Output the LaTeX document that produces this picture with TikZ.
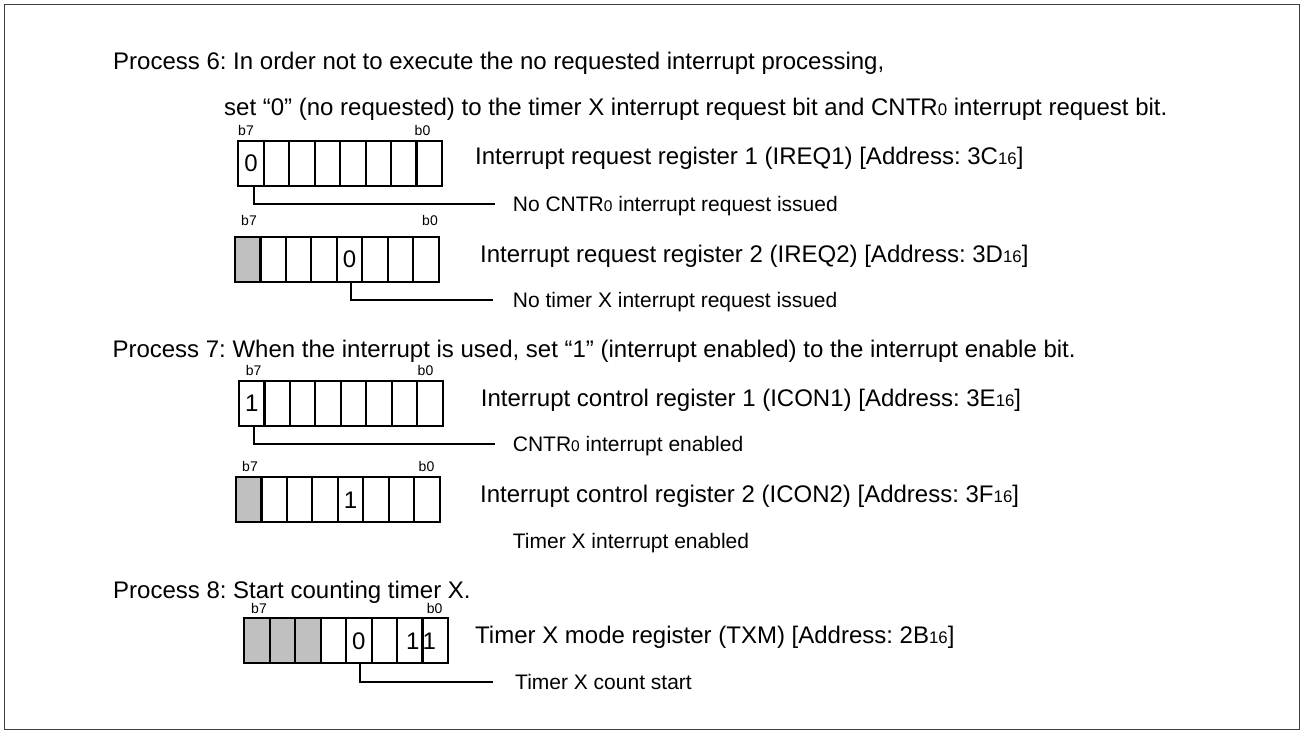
\documentclass[tikz,border=0pt]{standalone}
\usepackage{fontspec}
\setmainfont{Liberation Sans}
\frenchspacing
\definecolor{cellgray}{HTML}{C0C0C0}
\definecolor{framegray}{HTML}{404040}
\newcommand\smA[1]{{\fontsize{16.8}{18}\selectfont #1}}
\newcommand\smB[1]{{\fontsize{15.5}{17}\selectfont #1}}
\newcommand\regrow[4]{%
  \foreach[count=\i from 0] \f in {#4} {%
    \node[cell, fill=\f] (#1-\i) at ({#2+25.45*(\i+0.5)},{#3+22.5}) {};
  }%
}
\begin{document}
\begin{tikzpicture}[x=1pt,y=-1pt,
  cell/.style={draw, line width=2.1pt, minimum width=25.45pt, minimum height=45pt, inner sep=0pt, outer sep=0pt},
  digit/.style={inner sep=0pt, font=\fontsize{24}{28}\selectfont},
  maintext/.style={anchor=base west, inner sep=0pt, font=\fontsize{24}{28}\selectfont},
  subtext/.style={anchor=base west, inner sep=0pt, font=\fontsize{21}{25}\selectfont},
  bitlbl/.style={anchor=base, inner sep=0pt, font=\fontsize{14}{16}\selectfont},
  conn/.style={line width=2pt}
]
\useasboundingbox (0,0) rectangle (1309,731);
\draw[framegray, line width=1.5pt] (4.3,4.3) rectangle (1299.3,729.3);

% Process 6
\node[maintext] (p6) at (113,69.5) {Process 6: In order not to execute the no requested interrupt processing,};
\node[maintext] (p6b) at (224,115) {set “0” (no requested) to the timer X interrupt request bit and CNTR\smA{0} interrupt request bit.};

% Register IREQ1
\regrow{ra}{238.3}{140.7}{white,white,white,white,white,white,white,white}
\node[digit] (da) at (ra-0) {0};
\node[bitlbl] (ra7) at (246,135) {b7};
\node[bitlbl] (ra0) at (422.5,135) {b0};
\node[maintext] (la) at (475,164) {Interrupt request register 1 (IREQ1) [Address: 3C\smA{16}]};
\coordinate (ea) at (495,204.3);
\draw[conn] ([xshift=3pt]ra-0.south) |- (ea);
\node[subtext] (sa) at (512.7,211.5) {No CNTR\smB{0} interrupt request issued};

% Register IREQ2
\regrow{rb}{235}{236.7}{cellgray,white,white,white,white,white,white,white}
\node[digit] (db) at (rb-4) {0};
\node[bitlbl] (rb7) at (249,225) {b7};
\node[bitlbl] (rb0) at (430,225) {b0};
\node[maintext] (lb) at (480,262) {Interrupt request register 2 (IREQ2) [Address: 3D\smA{16}]};
\coordinate (eb) at (493,300);
\draw[conn] ([xshift=1.5pt]rb-4.south) |- (eb);
\node[subtext] (sb) at (512.7,307.5) {No timer X interrupt request issued};

% Process 7
\node[maintext] (p7) at (112.3,357) {Process 7: When the interrupt is used, set “1” (interrupt enabled) to the interrupt enable bit.};

% Register ICON1
\regrow{rc}{239}{381}{white,white,white,white,white,white,white,white}
\node[digit] (dc) at (rc-0) {1};
\node[bitlbl] (rc7) at (253.7,375) {b7};
\node[bitlbl] (rc0) at (425.5,375) {b0};
\node[maintext] (lc) at (480.7,406) {Interrupt control register 1 (ICON1) [Address: 3E\smA{16}]};
\coordinate (ec) at (495,444.3);
\draw[conn] ([xshift=2.5pt]rc-0.south) |- (ec);
\node[subtext] (sc) at (512.7,451.5) {CNTR\smB{0} interrupt enabled};

% Register ICON2
\regrow{rd}{236}{477.3}{cellgray,white,white,white,white,white,white,white}
\node[digit] (dd) at (rd-4) {1};
\node[bitlbl] (rd7) at (250,471.7) {b7};
\node[bitlbl] (rd0) at (426.5,471.7) {b0};
\node[maintext] (ld) at (480,502) {Interrupt control register 2 (ICON2) [Address: 3F\smA{16}]};
\node[subtext] (sd) at (512.7,548) {Timer X interrupt enabled};

% Process 8
\node[maintext] (p8) at (113,598) {Process 8: Start counting timer X.};

% Register TXM
\regrow{re}{244.3}{618.3}{cellgray,cellgray,cellgray,white,white,white,white,white}
\node[digit] (de) at (re-4) {0};
\node[digit] (df) at ([xshift=3pt]re-6) {1};
\node[digit] (dg) at ([xshift=-6pt]re-7) {1};
\node[bitlbl] (re7) at (259,613.3) {b7};
\node[bitlbl] (re0) at (434.7,613.3) {b0};
\node[maintext] (le) at (475,643.3) {Timer X mode register (TXM) [Address: 2B\smA{16}]};
\coordinate (ee) at (493,682.3);
\draw[conn] ([xshift=1pt]re-4.south) |- (ee);
\node[subtext] (se) at (515,689.5) {Timer X count start};
\end{tikzpicture}
\end{document}
